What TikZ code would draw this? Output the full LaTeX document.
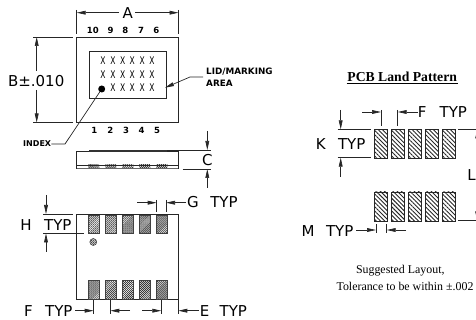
\documentclass[tikz,border=0pt]{standalone}
\usepackage{fontspec}
\setmainfont{Liberation Serif}
\usetikzlibrary{patterns.meta,arrows.meta}
\newfontfamily\cad{DejaVu Sans}
\tikzset{x=1pt,y=-1pt,
 dim/.style={line width=.7pt,black!85},
 arr/.style={dim,-{Stealth[length=9pt,width=3.8pt,inset=0pt]}},
 outline/.style={draw,line width=.8pt,black!85},
 lab/.style={inner sep=0,font=\cad\fontsize{15}{15}\selectfont},
 pin/.style={inner sep=0,font=\cad\bfseries\fontsize{8.5}{8.5}\selectfont},
 small/.style={inner sep=0,font=\cad\bfseries\fontsize{8.8}{11.6}\selectfont,align=left},
 xx/.style={inner sep=0,font=\cad\fontsize{10.5}{10.5}\selectfont},
 serif/.style={inner sep=0,font=\rmfamily\fontsize{11.9}{15}\selectfont},
 lead/.style={pattern={Lines[angle=45,distance=1.4pt,line width=.65pt]},pattern color=black!85,draw=black!75,line width=.5pt},
 land/.style={pattern={Lines[angle=-45,distance=3pt,line width=.9pt]},pattern color=black!85,draw=black!85,line width=.7pt}}
\begin{document}
\begin{tikzpicture}
\useasboundingbox (0,0) rectangle (476,320);
% top view
\node[outline,minimum width=101.6pt,minimum height=85.7pt,inner sep=0] (body) at (127.5,79.85) {};
\node[outline,minimum width=77pt,minimum height=46.6pt,inner sep=0] (lid) at (127.5,75) {};
\foreach \y in {61,75,88}{\foreach \x [count=\i] in {103,113,122.7,132.3,142.3,152}{
  \ifnum\y=88 \ifnum\i=1 \else \node[xx] (x\y\i) at (\x,\y) {\scalebox{.72}[1]{X}};\fi \else \node[xx] (x\y\i) at (\x,\y) {\scalebox{.72}[1]{X}};\fi}}
\node[circle,fill=black,minimum size=7pt,inner sep=0] (idx) at (101.7,89) {};
\foreach \x/\t in {92.8/10,110.7/9,125.3/8,141/7,156.3/6}{\node[pin] (t\t) at (\x,30.7) {\t};}
\foreach \x/\t in {94.3/1,110.3/2,126/3,141.7/4,157/5}{\node[pin] (b\t) at (\x,130) {\t};}
% A
\coordinate (al) at (76.7,12.7); \coordinate (ar) at (178.5,12.7);
\coordinate (al0) at (76.7,10); \coordinate (ar0) at (178.5,10);
\coordinate (al2) at (76.7,34); \coordinate (ar2) at (178.5,34);
\node[lab] (A) at (127.7,13.3) {A};
\draw[dim] (al0) -- (al2); \draw[dim] (ar0) -- (ar2);
\draw[arr] (119,12.7) -- (al);
\draw[arr] (135,12.7) -- (ar);
% B
\coordinate (bt) at (36.7,37); \coordinate (bb) at (36.7,122.5);
\node[lab] (B) at (36.2,80.7) {B±.010};
\draw[dim] (33,37) -- (73,37); \draw[dim] (33,122.5) -- (73,122.5);
\draw[arr] (36.7,71) -- (bt);
\draw[arr] (36.7,90) -- (bb);
% labels
\node[small,anchor=west] (lidlab) at (206,77.5) {LID/MARKING\\AREA};
\coordinate (lk) at (190,77);
\coordinate (lt) at (165,87.7);
\draw[arr] (203,77) -- (lk) -- (lt);
\node[small,anchor=west,font=\cad\bfseries\fontsize{8}{9}\selectfont] (index) at (23,144) {INDEX};
\coordinate (ik) at (65,144);
\draw[dim] (index.east) -- (ik) -- (idx);
% side view
\draw[outline] (76.7,151.7) rectangle (178.3,168);
\draw[line width=1.5pt,black!80] (89,150.8) -- (167.3,150.8);
\draw[line width=.7pt,black!85] (76.7,165) -- (178.3,165);
\draw[line width=1pt,black!60] (76.7,168.3) -- (178.3,168.3);
\foreach \x in {88.3,105.3,122.3,139.3,156.3}{\path[pattern={Lines[angle=45,distance=1.4pt,line width=.65pt]},pattern color=black!85] (\x,165) rectangle +(11,3);}
\coordinate (ct) at (207.3,150); \coordinate (cb) at (207.3,169);
\node[lab] (C) at (207.3,160) {C};
\draw[dim] (167,150) -- (210.7,150); \draw[dim] (182.7,169) -- (211,169);
\draw[arr] (207.3,131) -- (ct); \draw[arr] (207.3,188) -- (cb);
% bottom view
\node[outline,minimum width=101.6pt,minimum height=84.7pt,inner sep=0] (bot) at (127.5,256.7) {};
\foreach \x in {88.3,105.3,122.3,139.3,156.3}{
 \draw[lead] (\x,215.7) rectangle +(10.8,17.6);
 \draw[lead] (\x,280.7) rectangle +(10.8,18.3);}
\draw[lead] (93.3,242) circle (3.5);
% H
\node[lab] (H) at (26,225) {H};
\node[lab] (HT) at (57.8,224.7) {TYP};
\draw[dim] (43,214) -- (72.7,214);
\draw[dim] (43,233.3) -- (84.3,233.3);
\draw[arr] (46,195) -- (46,214);
\draw[arr] (46,251.7) -- (46,233.5);
% G
\node[lab] (G) at (193,202) {G};
\node[lab] (GT) at (224,202) {TYP};
\draw[dim] (156.7,200) -- (156.7,211.7); \draw[dim] (166,200) -- (166,211.7);
\draw[arr] (137,202.7) -- (156.7,202.7); \draw[arr] (186,202.7) -- (166,202.7);
% F
\node[lab] (F) at (28.5,310.7) {F};
\node[lab] (FT) at (58.8,310.7) {TYP};
\draw[dim] (93.7,300) -- (93.7,314); \draw[dim] (110.3,300) -- (110.3,314);
\draw[arr] (75,310.7) -- (93.7,310.7); \draw[arr] (130,310.7) -- (110.3,310.7);
% E
\node[lab] (E) at (204.5,310.7) {E};
\node[lab] (ET) at (233.3,310.7) {TYP};
\draw[dim] (161.3,300) -- (161.3,314); \draw[dim] (178.3,300) -- (178.3,314);
\draw[arr] (142.3,310.7) -- (161.3,310.7); \draw[arr] (199,310.7) -- (178.3,310.7);
% PCB
\node[inner sep=0,font=\rmfamily\bfseries\fontsize{13.7}{15}\selectfont] (title) at (402.2,77) {PCB Land Pattern};
\draw[line width=.7pt] (346.7,83.3) -- (457.7,83.3);
\foreach \i/\x in {1/374.3,2/391.3,3/408.3,4/425.3,5/442.3}{
 \draw[land] (\x,129.3) rectangle +(12.7,28.7);
 \draw[land] (\x,192) rectangle +(12.7,29.7);}
% K
\node[lab] (K) at (320.7,144) {K};
\node[lab] (KT) at (351.7,144) {TYP};
\draw[dim] (337.7,129.3) -- (371,129.3); \draw[dim] (337.7,157.7) -- (371,157.7);
\draw[arr] (340.7,110) -- (340.7,129.3); \draw[arr] (340.7,176.7) -- (340.7,157.7);
% F2
\node[lab] (F2) at (422.2,112) {F};
\node[lab] (F2T) at (453.3,112) {TYP};
\draw[dim] (381,110) -- (381,125.7); \draw[dim] (397.7,110) -- (397.7,125.7);
\draw[arr] (362,112) -- (381,112); \draw[arr] (417.7,112) -- (397.7,112);
% L
\node[lab,anchor=west] (L) at (467.2,175) {L};
\draw[dim] (458.3,129.3) -- (476,129.3); \draw[dim] (458.3,220.7) -- (476,220.7);
\draw[arr] (477.2,150) -- (477.2,129.5); \draw[arr] (477.2,200) -- (477.2,220.5);
% M
\node[lab] (M) at (308,230.7) {M};
\node[lab] (MT) at (339.7,230.7) {TYP};
\draw[dim] (376,224.3) -- (376,233.3); \draw[dim] (386.7,224.3) -- (386.7,233.3);
\draw[arr] (356,230) -- (376,230); \draw[arr] (406,230) -- (386.7,230);
\node[serif] (note1) at (400.3,270.7) {Suggested Layout,};
\node[serif] (note2) at (405,286) {Tolerance to be within ±.002};
\end{tikzpicture}
\end{document}
